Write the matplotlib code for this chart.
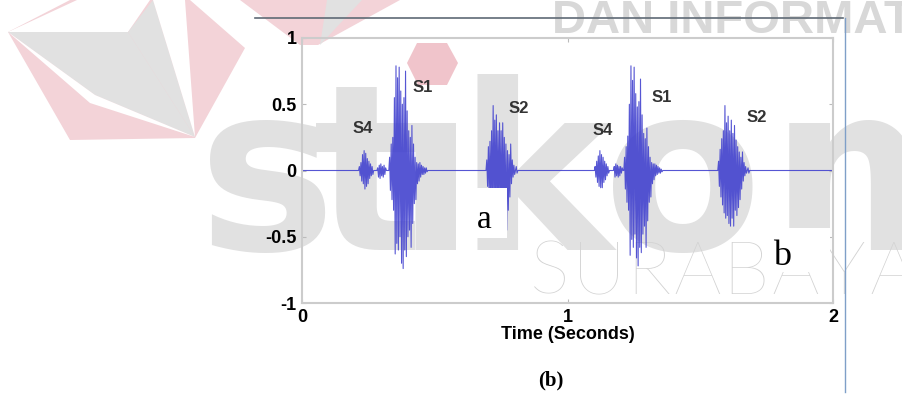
import numpy as np
import matplotlib.pyplot as plt
from matplotlib.patches import Polygon, Rectangle
from matplotlib.lines import Line2D

W, H = 902, 397


def fpx(x, y):
    # pixel position in the page -> figure fraction
    return (x / W, 1 - y / H)


# ---- heart sound samples (amplitude, every dt seconds)
dt = 0.003
burst_start = [0.215, 0.285, 0.330, 0.695, 1.105, 1.175, 1.215, 1.570]

s4_a = [0.03, -0.04, 0.06, -0.08, 0.12, -0.10, 0.15, -0.14, 0.13, -0.12,
        0.09, -0.10, 0.07, -0.06, 0.05, -0.04, 0.03, -0.03]
gap_a = [0.02, -0.05, 0.04, -0.06, 0.05, -0.04, 0.03, -0.05, 0.04, -0.03, 0.02]
s1_a = [0.10, -0.15, 0.20, -0.22, 0.25, -0.30, 0.55, -0.63, 0.79, -0.55,
        0.70, -0.60, 0.78, -0.50, 0.60, -0.70, 0.50, -0.74, 0.55, -0.60,
        0.75, -0.65, 0.45, -0.50, 0.30, -0.45, 0.25, -0.58, 0.34, -0.40,
        0.20, -0.25, 0.10, -0.22, 0.06, -0.10, 0.05, -0.08, 0.06, -0.05,
        0.04, -0.03, 0.03, -0.03, 0.02, -0.02, 0.02, -0.01]
s2_a = [0.08, -0.12, 0.18, -0.20, 0.22, -0.25, 0.30, -0.30, 0.49, -0.33,
        0.38, -0.30, 0.42, -0.35, 0.30, -0.28, 0.36, -0.32, 0.30, -0.38,
        0.36, -0.30, 0.25, -0.40, 0.20, -0.45, 0.15, -0.30, 0.12, -0.20,
        0.20, -0.10, 0.08, -0.05, 0.04, -0.03, 0.00, 0.03, -0.02]

s4_b = [0.03, -0.05, 0.07, -0.09, 0.11, -0.12, 0.15, -0.13, 0.12, -0.13,
        0.10, -0.09, 0.07, -0.07, 0.05, -0.04, 0.03, -0.02]
gap_b = [0.03, -0.05, 0.05, -0.04, 0.04, -0.05, 0.03, -0.04, 0.03, -0.02, 0.02]
s1_b = [0.10, -0.14, 0.18, -0.24, 0.26, -0.30, 0.50, -0.64, 0.79, -0.52,
        0.68, -0.58, 0.78, -0.48, 0.58, -0.66, 0.48, -0.72, 0.52, -0.58,
        0.69, -0.62, 0.42, -0.48, 0.28, -0.42, 0.24, -0.58, 0.32, -0.38,
        0.18, -0.24, 0.10, -0.20, 0.06, -0.10, 0.05, -0.07, 0.05, -0.04,
        0.04, -0.03, 0.03, -0.02, 0.02, -0.02, 0.01, -0.01]
s2_b = [0.07, -0.12, 0.16, -0.20, 0.24, -0.26, 0.30, -0.32, 0.49, -0.36,
        0.36, -0.34, 0.41, -0.40, 0.30, -0.42, 0.38, -0.36, 0.28, -0.42,
        0.34, -0.30, 0.23, -0.34, 0.18, -0.28, 0.14, -0.22, 0.10, -0.14,
        0.14, -0.08, 0.06, -0.04, 0.03, -0.02, 0.00, 0.02, -0.02]

bursts = [s4_a, gap_a, s1_a, s2_a, s4_b, gap_b, s1_b, s2_b]

label_text = ['S4', 'S1', 'S2', 'S4', 'S1', 'S2']
label_t = [0.230, 0.456, 0.817, 1.134, 1.356, 1.714]
label_y = [0.32, 0.63, 0.47, 0.30, 0.55, 0.40]

x_ticks = [0, 1, 2]
y_ticks = [-1, -0.5, 0, 0.5, 1]
y_tick_labels = ['-1', '-0.5', '0', '0.5', '1']

t = np.arange(0, 2 + dt / 2, dt)
sig = np.zeros_like(t)
for start, amps in zip(burst_start, bursts):
    i0 = int(round(start / dt))
    sig[i0:i0 + len(amps)] = amps

narrow = ['Liberation Sans Narrow', 'Liberation Sans', 'DejaVu Sans']
serif = ['Liberation Serif', 'DejaVu Serif']

fig = plt.figure(figsize=(W / 100, H / 100), dpi=100)

# ---- watermark (behind the chart)
wm_grey = '#e1e1e1'
pink = '#f3d3d8'
for pts, col in [
    ([(8, 32), (70, 0), (190, 0), (245, 48), (195, 138), (70, 140)], pink),
    ([(8, 32), (77, 0), (150, 0), (128, 32)], 'white'),
    ([(8, 32), (128, 32), (195, 137), (95, 95)], wm_grey),
    ([(128, 32), (153, 0), (195, 137)], wm_grey),
    ([(153, 0), (185, 0), (195, 137)], 'white'),
    ([(8, 32), (95, 95), (195, 137), (90, 103)], 'white'),
    ([(240, 0), (400, 0), (318, 45), (300, 45)], pink),
    ([(327, 0), (362, 0), (320, 45)], wm_grey),
    ([(417, 43), (447, 43), (458, 63), (447, 85), (418, 85), (407, 63)], '#f0c4cb'),
]:
    fig.add_artist(Polygon([fpx(*p) for p in pts], closed=True, facecolor=col,
                           edgecolor='none', transform=fig.transFigure, zorder=-3))

for ch, cx in zip(['s', 't', 'ı', 'k', 'o', 'm'], [267, 368, 435, 535, 683, 891]):
    fig.text(*fpx(cx, 250), ch, fontsize=167, fontweight='bold',
             family='DejaVu Sans', color=wm_grey, ha='center', va='baseline', zorder=-2)
for i, ch in enumerate('SURABAYA'):
    fig.text(*fpx(550 + i * 49, 294), ch, fontsize=54, fontweight='light',
             family=['Lato', 'DejaVu Sans'], color='#d2d2d2', ha='center',
             va='baseline', zorder=-2)
fig.text(*fpx(552, 33), 'DAN INFORMATIKA', fontsize=34, fontweight='bold',
         family=['Liberation Sans', 'DejaVu Sans'], color='#d8d8d8',
         ha='left', va='baseline', zorder=-2)

# ---- page frame lines
fig.add_artist(Line2D(*zip(fpx(255, 18), fpx(843, 18)), color='#5f6a75', lw=1.2,
                      transform=fig.transFigure))
fig.add_artist(Line2D(*zip(fpx(845, 18), fpx(845, 392)), color='#7f9fc8', lw=1.0,
                      transform=fig.transFigure))

# ---- the chart
ax = fig.add_axes([302 / W, 1 - 303 / H, 531 / W, 265 / H])
ax.set_facecolor('none')
ax.plot(t, sig, color='#4343cf', lw=0.8, alpha=0.9)

for txt, lt, ly in zip(label_text, label_t, label_y):
    ax.text(lt, ly, txt, fontsize=12, fontweight='bold', family=narrow,
            color='#333333', ha='center', va='center')

ax.set_xlim(0, 2)
ax.set_ylim(-1, 1)
ax.set_xticks(x_ticks)
ax.set_xticklabels([str(v) for v in x_ticks])
ax.set_yticks(y_ticks)
ax.set_yticklabels(y_tick_labels)
ax.tick_params(direction='in', length=3, color='#bbbbbb', top=True, right=True,
               labelsize=13, pad=4)
for lab in ax.get_xticklabels() + ax.get_yticklabels():
    lab.set_fontweight('bold')
    lab.set_family(narrow)
for sp in ax.spines.values():
    sp.set_color('#cccccc')
    sp.set_linewidth(1.5)
ax.set_xlabel('Time (Seconds)', fontsize=13, fontweight='bold', family=narrow,
              labelpad=0)

# white text boxes of the page, covering the chart
for x0, y0, x1, y1 in [(463, 188, 507, 238), (765, 228, 830, 272)]:
    fig.add_artist(Rectangle(fpx(x0, y1), (x1 - x0) / W, (y1 - y0) / H,
                             facecolor='white', edgecolor='none',
                             transform=fig.transFigure, zorder=5))
fig.text(*fpx(484, 228), 'a', fontsize=24, family=serif, ha='center',
         va='baseline', zorder=6)
fig.text(*fpx(782, 265), 'b', fontsize=26, family=serif, ha='center',
         va='baseline', zorder=6)
fig.text(*fpx(551, 380), '(b)', fontsize=15, fontweight='bold', family=serif,
         ha='center', va='center', zorder=6)

fig.savefig('out.png', dpi=100)
